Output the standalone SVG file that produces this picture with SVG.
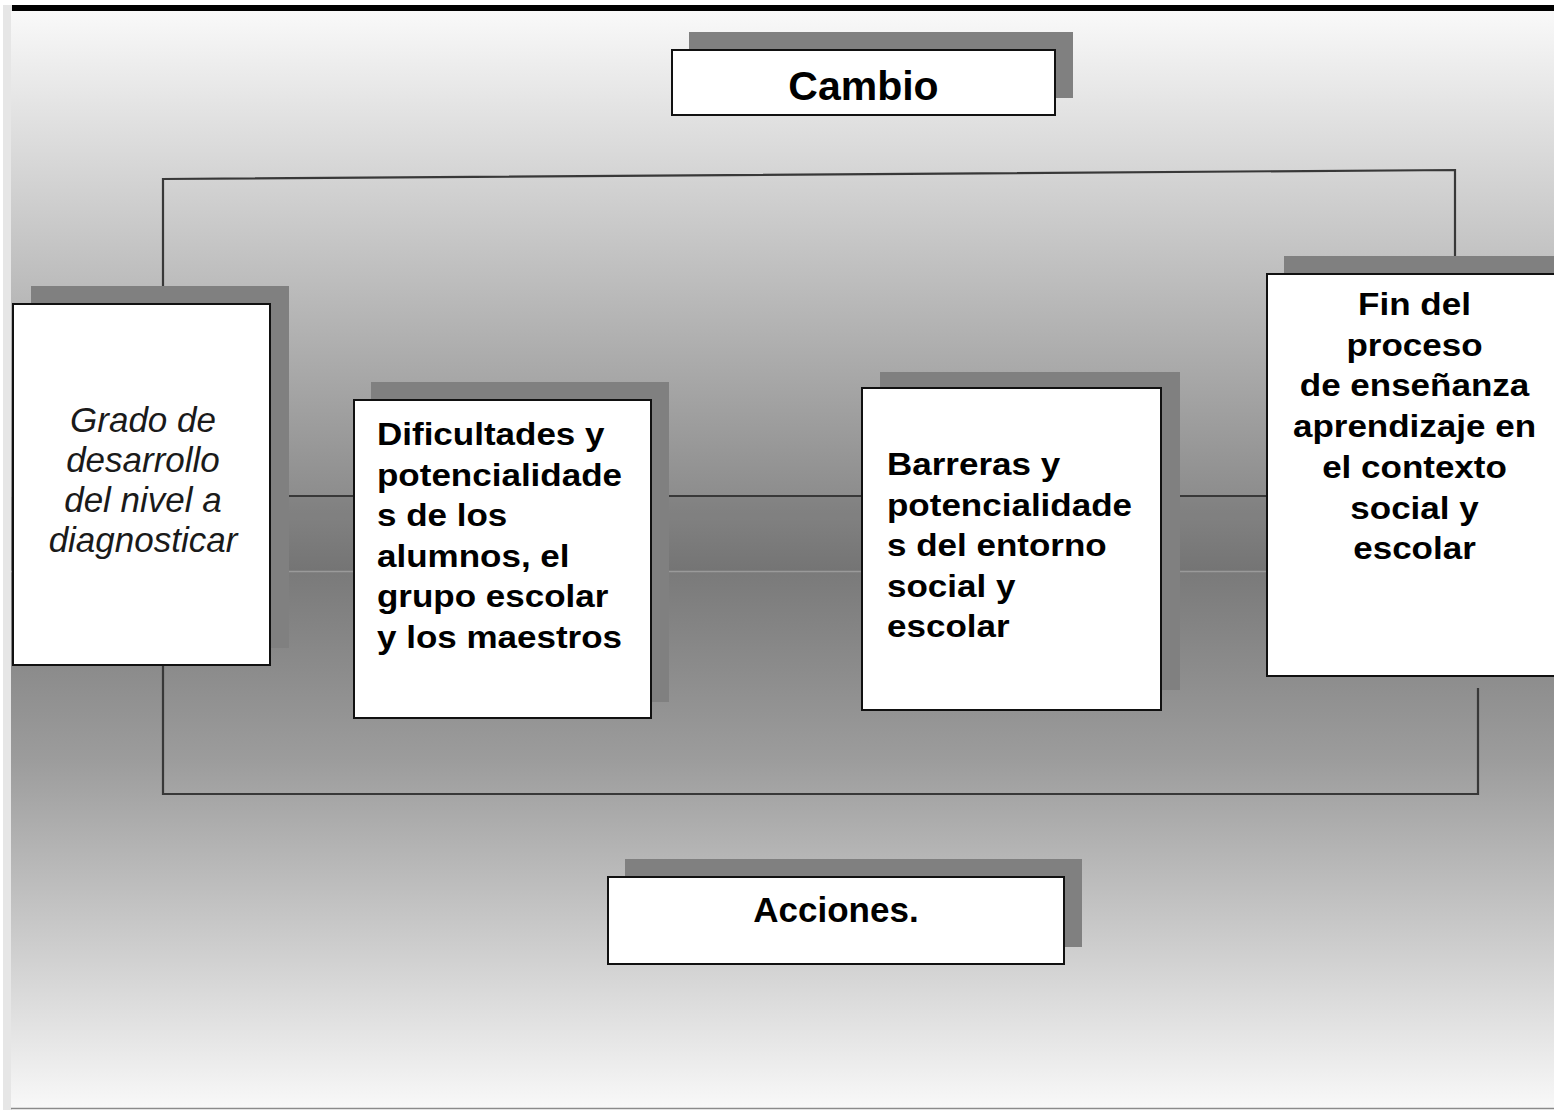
<svg xmlns="http://www.w3.org/2000/svg" width="1554" height="1110" viewBox="0 0 1554 1110">
  <defs>
    <linearGradient id="gTop" x1="0" y1="0" x2="0" y2="1">
      <stop offset="0" stop-color="#f9f9f9"/>
      <stop offset="1" stop-color="#7c7c7c"/>
    </linearGradient>
    <linearGradient id="gBot" x1="0" y1="0" x2="0" y2="1">
      <stop offset="0" stop-color="#7a7a7a"/>
      <stop offset="0.35" stop-color="#9c9c9c"/>
      <stop offset="1" stop-color="#f8f8f8"/>
    </linearGradient>
  </defs>
  <style>
    .shadow { fill: #808080; }
    .box { fill: #ffffff; stroke: #111111; stroke-width: 2; }
    .conn { fill: none; stroke: #383838; stroke-width: 2.2; }
    .bold { font-family: "Liberation Sans", Arial, sans-serif; font-weight: bold; fill: #000000; }
    .ital { font-family: "Liberation Sans", Arial, sans-serif; font-style: italic; font-size: 35px; fill: #1a1a1a; }
    .multi { font-size: 35px; }
  </style>

  <!-- background -->
  <rect x="0" y="0" width="1554" height="1110" fill="#ffffff"/>
  <rect x="3" y="5" width="9" height="1105" fill="#e6e6e6"/>
  <rect x="11" y="11" width="1543" height="561" fill="url(#gTop)"/>
  <rect x="11" y="572" width="1543" height="536" fill="url(#gBot)"/>
  <rect x="11" y="497" width="1543" height="74" fill="#000000" fill-opacity="0.06"/>
  <line x1="11" y1="571.5" x2="1554" y2="571.5" stroke="#9a9a9a" stroke-width="1.5"/>
  <rect x="12" y="5" width="1542" height="6" fill="#000000"/>
  <line x1="11" y1="1108.5" x2="1554" y2="1108.5" stroke="#8a8a8a" stroke-width="1.5"/>

  <!-- connectors -->
  <g id="connectors">
    <polyline class="conn" points="163,286 163,179 1455,170 1455,256"/>
    <line class="conn" x1="270" y1="496" x2="1267" y2="496" stroke-width="3"/>
    <polyline class="conn" points="163,665 163,794 1478,794 1478,688"/>
  </g>

  <!-- Cambio -->
  <g id="cambio">
    <rect class="shadow" x="689" y="32" width="384" height="66"/>
    <rect class="box" x="672" y="50" width="383" height="65"/>
    <text class="bold" x="863.5" y="100" font-size="41" text-anchor="middle">Cambio</text>
  </g>

  <!-- Grado de desarrollo -->
  <g id="grado">
    <rect class="shadow" x="31" y="286" width="258" height="362"/>
    <rect class="box" x="13" y="304" width="257" height="361"/>
    <text class="ital" x="143" y="432" text-anchor="middle">Grado de</text>
    <text class="ital" x="143" y="472" text-anchor="middle">desarrollo</text>
    <text class="ital" x="143" y="512" text-anchor="middle">del nivel a</text>
    <text class="ital" x="143" y="552" text-anchor="middle">diagnosticar</text>
  </g>

  <!-- Dificultades -->
  <g id="dificultades">
    <rect class="shadow" x="371" y="382" width="298" height="320"/>
    <rect class="box" x="354" y="400" width="297" height="318"/>
    <text class="bold multi" transform="translate(377,445) scale(1,0.87)">Dificultades y</text>
    <text class="bold multi" transform="translate(377,485.5) scale(1,0.87)">potencialidade</text>
    <text class="bold multi" transform="translate(377,526) scale(1,0.87)">s de los</text>
    <text class="bold multi" transform="translate(377,566.5) scale(1,0.87)">alumnos, el</text>
    <text class="bold multi" transform="translate(377,607) scale(1,0.87)">grupo escolar</text>
    <text class="bold multi" transform="translate(377,647.5) scale(1,0.87)">y los maestros</text>
  </g>

  <!-- Barreras -->
  <g id="barreras">
    <rect class="shadow" x="880" y="372" width="300" height="318"/>
    <rect class="box" x="862" y="388" width="299" height="322"/>
    <text class="bold multi" transform="translate(887,475) scale(1,0.87)">Barreras y</text>
    <text class="bold multi" transform="translate(887,515.5) scale(1,0.87)">potencialidade</text>
    <text class="bold multi" transform="translate(887,556) scale(1,0.87)">s del entorno</text>
    <text class="bold multi" transform="translate(887,596.5) scale(1,0.87)">social y</text>
    <text class="bold multi" transform="translate(887,637) scale(1,0.87)">escolar</text>
  </g>

  <!-- Fin del proceso -->
  <g id="fin">
    <rect class="shadow" x="1284" y="256" width="280" height="402"/>
    <rect class="box" x="1267" y="274" width="300" height="402"/>
    <text class="bold multi" text-anchor="middle" transform="translate(1414.5,315) scale(1,0.87)">Fin del</text>
    <text class="bold multi" text-anchor="middle" transform="translate(1414.5,355.7) scale(1,0.87)">proceso</text>
    <text class="bold multi" text-anchor="middle" transform="translate(1414.5,396.4) scale(1,0.87)">de enseñanza</text>
    <text class="bold multi" text-anchor="middle" transform="translate(1414.5,437) scale(1,0.87)">aprendizaje en</text>
    <text class="bold multi" text-anchor="middle" transform="translate(1414.5,477.8) scale(1,0.87)">el contexto</text>
    <text class="bold multi" text-anchor="middle" transform="translate(1414.5,518.5) scale(1,0.87)">social y</text>
    <text class="bold multi" text-anchor="middle" transform="translate(1414.5,559) scale(1,0.87)">escolar</text>
  </g>

  <!-- Acciones -->
  <g id="acciones">
    <rect class="shadow" x="625" y="859" width="457" height="88"/>
    <rect class="box" x="608" y="877" width="456" height="87"/>
    <text class="bold" x="836" y="922" font-size="35" text-anchor="middle">Acciones.</text>
  </g>
</svg>
